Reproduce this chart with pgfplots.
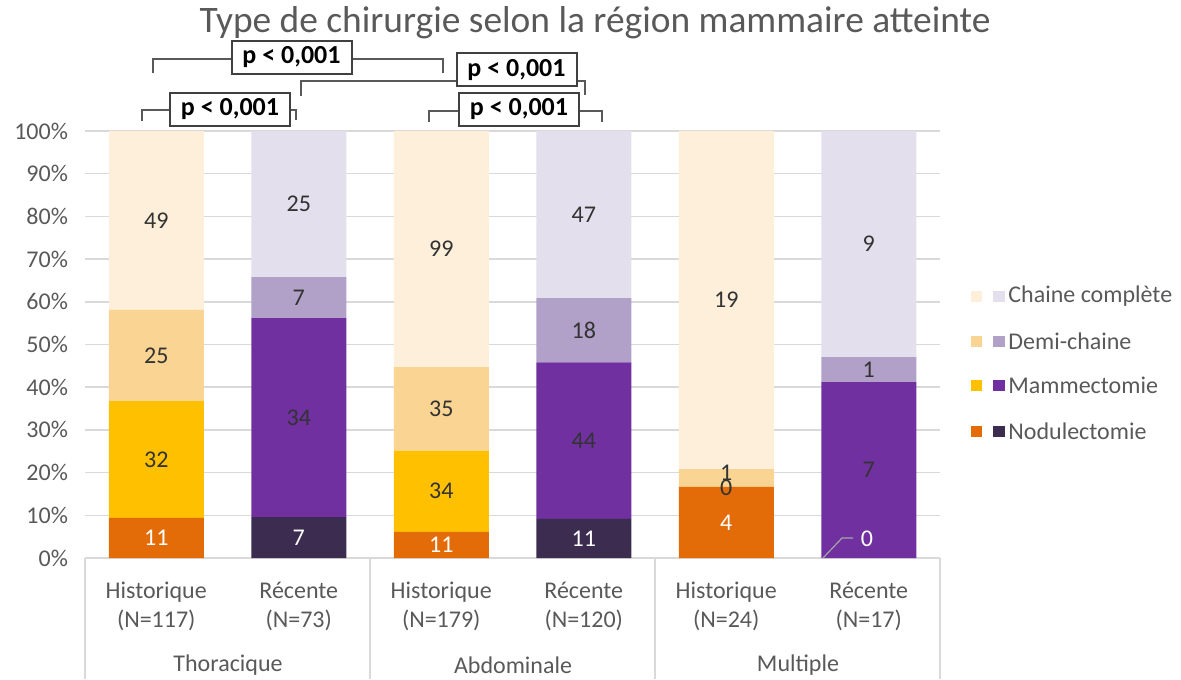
\documentclass[border=0pt]{standalone}
\usepackage{pgfplots}
\pgfplotsset{compat=1.18}
\usepackage{fontspec}
\setmainfont{Carlito}

\definecolor{txt}{HTML}{595959}
\definecolor{lbl}{HTML}{333333}
\definecolor{gridc}{HTML}{D9D9D9}
\definecolor{hNod}{HTML}{E36C09}
\definecolor{hMam}{HTML}{FFC000}
\definecolor{hDemi}{HTML}{F9D493}
\definecolor{hChai}{HTML}{FDEFDA}
\definecolor{rNod}{HTML}{3C2D50}
\definecolor{rMam}{HTML}{7030A0}
\definecolor{rDemi}{HTML}{B1A0C7}
\definecolor{rChai}{HTML}{E4DFEC}

\pgfplotsset{
  base/.style={
    at={(42.5pt,-279pt)}, anchor=south west,
    scale only axis, width=427.5pt, height=213.5pt,
    xmin=-0.5, xmax=5.5, ymin=0, ymax=100,
    clip=false,
  },
  lab/.style={draw=none, mark=none, nodes near coords, point meta=explicit symbolic,
    every node near coord/.append style={anchor=center, font=\fontsize{12}{14}\selectfont, text=#1}},
}

\begin{document}
\begin{tikzpicture}[x=0.5pt, y=-0.5pt]
\path[use as bounding box] (0,0) rectangle (1181,679);
\node[text=txt, font=\fontsize{18.7}{21}\selectfont] at (595,23) {Type de chirurgie selon la région mammaire atteinte};

\begin{axis}[base,
  ybar stacked, bar width=47.5pt,
  axis line style={draw=none}, major tick length=0pt,
  ymajorgrids, grid style={gridc, line width=0.75pt},
  ytick={0,10,...,100}, yticklabel={\pgfmathprintnumber{\tick}\%},
  yticklabel style={text=txt, xshift=-5pt},
  xtick={0,...,5},
  xticklabels={{Historique\\(N=117)},{Récente\\(N=73)},{Historique\\(N=179)},{Récente\\(N=120)},{Historique\\(N=24)},{Récente\\(N=17)}},
  xticklabel style={align=center, text=txt, yshift=-8.5pt},
  /pgf/number format/assume math mode=true,
  tick label style={font=\fontsize{12}{14.5}\selectfont},
]
% percentages of each bar (counts / N)
\addplot[fill=hNod, draw=none] coordinates {(0,9.402)(1,0)(2,6.145)(3,0)(4,16.667)(5,0)};
\addplot[fill=rNod, draw=none] coordinates {(0,0)(1,9.589)(2,0)(3,9.167)(4,0)(5,0)};
\addplot[fill=hMam, draw=none] coordinates {(0,27.350)(1,0)(2,18.994)(3,0)(4,0)(5,0)};
\addplot[fill=rMam, draw=none] coordinates {(0,0)(1,46.575)(2,0)(3,36.667)(4,0)(5,41.176)};
\addplot[fill=hDemi, draw=none] coordinates {(0,21.368)(1,0)(2,19.553)(3,0)(4,4.167)(5,0)};
\addplot[fill=rDemi, draw=none] coordinates {(0,0)(1,9.589)(2,0)(3,15.000)(4,0)(5,5.882)};
\addplot[fill=hChai, draw=none] coordinates {(0,41.880)(1,0)(2,55.307)(3,0)(4,79.167)(5,0)};
\addplot[fill=rChai, draw=none] coordinates {(0,0)(1,34.247)(2,0)(3,39.167)(4,0)(5,52.941)};
\end{axis}

\begin{axis}[base, hide axis]
\addplot[lab=white] coordinates {(0,4.701)[11] (1,4.795)[7] (2,3.073)[11] (3,4.583)[11] (4,8.333)[4] (4.988,4.45)[0]};
\addplot[lab=lbl] coordinates {
  (0,23.077)[32] (0,47.436)[25] (0,79.060)[49]
  (1,32.877)[34] (1,60.959)[7] (1,82.877)[25]
  (2,15.642)[34] (2,34.916)[35] (2,72.346)[99]
  (3,27.500)[44] (3,53.333)[18] (3,80.417)[47]
  (4,16.4)[0] (4,20.0)[1] (4,60.417)[19]
  (5,20.588)[7] (5,44.118)[1] (5,73.530)[9]};
\end{axis}

% leader line of the zero label
\draw[color=black!35, line width=0.6pt] (823,558) -- (842,538) -- (853,538);

% group separators and names
\foreach \xx in {85,370,655,940} \draw[gridc, line width=0.75pt] (\xx,558) -- (\xx,679);
\begin{scope}[every node/.style={text=txt, font=\fontsize{12}{14}\selectfont}]
\node at (228,665) {Thoracique};
\node at (513,665) {Abdominale};
\node at (798,665) {Multiple};
\end{scope}

% significance brackets
\begin{scope}[color=txt, line width=0.75pt]
\draw (153,73) -- (153,59) -- (443,59) -- (443,73);
\draw (301,96) -- (301,81) -- (585,81) -- (585,95);
\draw (142,121) -- (142,110) -- (296,110) -- (296,120);
\draw (429,122) -- (429,111) -- (602,111) -- (602,122);
\end{scope}
\begin{scope}[every node/.style={draw=black!75, line width=1pt, fill=white, minimum width=60pt, minimum height=16.5pt, inner sep=0pt, font=\fontsize{13}{15}\selectfont\bfseries}]
\node at (291.5,57.5) {p < 0,001};
\node at (516.5,70) {p < 0,001};
\node at (230,109.5) {p < 0,001};
\node at (519,109.5) {p < 0,001};
\end{scope}

% legend
\foreach \yy/\ca/\cb/\name in {296/hChai/rChai/Chaine complète, 341/hDemi/rDemi/Demi-chaine, 385/hMam/rMam/Mammectomie, 431/hNod/rNod/Nodulectomie} {
  \fill[\ca] (971,\yy-5.5) rectangle (982,\yy+5.5);
  \fill[\cb] (993,\yy-5.5) rectangle (1005,\yy+5.5);
  \node[anchor=west, inner sep=0pt, text=txt, font=\fontsize{12}{14}\selectfont] at (1008,\yy) {\name};
}
\end{tikzpicture}
\end{document}
